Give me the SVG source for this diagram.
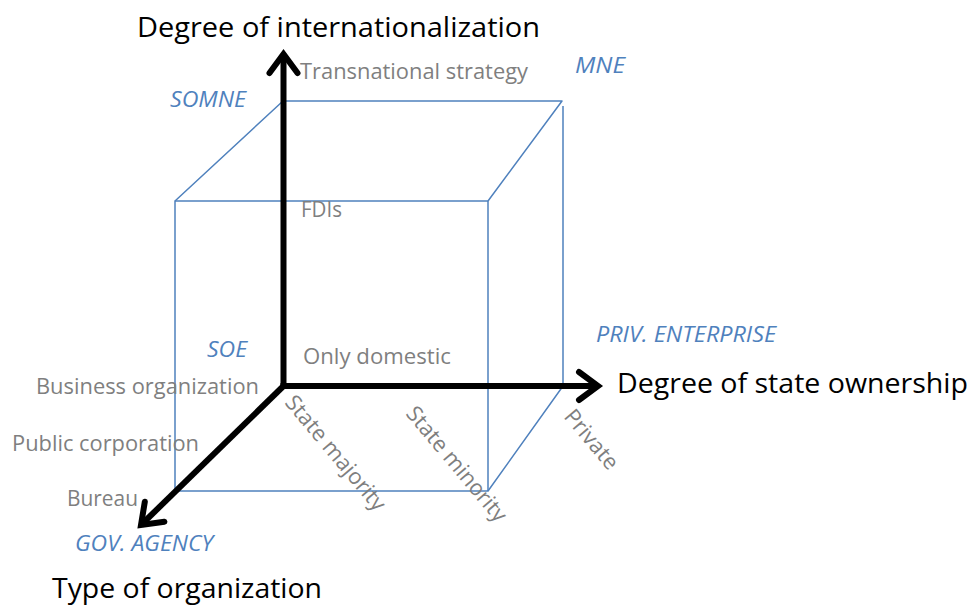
<svg xmlns="http://www.w3.org/2000/svg" width="975" height="607" viewBox="0 0 975 607">
<style>
  text { font-family: "Open Sans", "Noto Sans", "Liberation Sans", sans-serif; }
  .axis-title { font-size: 28px; fill: #000; }
  .tick { font-size: 22px; fill: #7f7f7f; }
  .corner { font-size: 22px; fill: #4f81bd; font-style: italic; }
  .edge { fill: none; stroke: #4f81bd; stroke-width: 1.5; stroke-linejoin: round; }
  .axis { fill: none; stroke: #000; stroke-width: 6; marker-end: url(#arrow); }
</style>
<defs>
  <marker id="arrow" markerUnits="userSpaceOnUse" orient="auto" markerWidth="40" markerHeight="40" viewBox="-30 -20 40 40" refX="0" refY="0" overflow="visible">
    <path d="M-19,-14 L0,0 L-19,14" fill="none" stroke="#000" stroke-width="6" stroke-linecap="round" stroke-linejoin="miter"/>
  </marker>
</defs>
<rect width="975" height="607" fill="#fff"/>

<g id="cube">
  <rect class="edge" x="175" y="201" width="313" height="290"/>
  <path class="edge" d="M175,201 L283,101 L562,101 L488,201"/>
  <path class="edge" d="M563,106 L563,386 L488,491"/>
</g>

<g id="connectors">
  <path class="axis" d="M283.5,389 L283.5,54"/>
  <path class="axis" d="M280.5,386 L598,386"/>
  <path class="axis" d="M283.5,386 L141,525"/>
</g>

<g id="axis-internationalization">
  <text class="axis-title" x="137" y="37" textLength="403" lengthAdjust="spacingAndGlyphs">Degree of internationalization</text>
  <text class="tick" x="300" y="79" textLength="228" lengthAdjust="spacingAndGlyphs">Transnational strategy</text>
  <text class="tick" x="301" y="217" textLength="41" lengthAdjust="spacingAndGlyphs">FDIs</text>
  <text class="tick" x="303" y="364" textLength="148" lengthAdjust="spacingAndGlyphs">Only domestic</text>
</g>

<g id="axis-ownership">
  <text class="axis-title" x="617" y="393" textLength="351" lengthAdjust="spacingAndGlyphs">Degree of state ownership</text>
  <text class="tick" transform="translate(284,403) rotate(50)" textLength="143" lengthAdjust="spacingAndGlyphs">State majority</text>
  <text class="tick" transform="translate(405,414) rotate(50)" textLength="143" lengthAdjust="spacingAndGlyphs">State minority</text>
  <text class="tick" transform="translate(563,417) rotate(50)" textLength="71" lengthAdjust="spacingAndGlyphs">Private</text>
</g>

<g id="axis-organization">
  <text class="axis-title" x="52" y="598" textLength="270" lengthAdjust="spacingAndGlyphs">Type of organization</text>
  <text class="tick" x="36" y="394" textLength="223" lengthAdjust="spacingAndGlyphs">Business organization</text>
  <text class="tick" x="12" y="451" textLength="187" lengthAdjust="spacingAndGlyphs">Public corporation</text>
  <text class="tick" x="67" y="506" textLength="71" lengthAdjust="spacingAndGlyphs">Bureau</text>
</g>

<g id="node-mne"><text class="corner" x="575" y="73" textLength="50" lengthAdjust="spacingAndGlyphs">MNE</text></g>
<g id="node-somne"><text class="corner" x="170" y="107" textLength="76" lengthAdjust="spacingAndGlyphs">SOMNE</text></g>
<g id="node-soe"><text class="corner" x="207" y="357" textLength="40" lengthAdjust="spacingAndGlyphs">SOE</text></g>
<g id="node-priv"><text class="corner" x="596" y="342" textLength="180" lengthAdjust="spacingAndGlyphs">PRIV. ENTERPRISE</text></g>
<g id="node-gov"><text class="corner" x="75" y="551" textLength="138" lengthAdjust="spacingAndGlyphs">GOV. AGENCY</text></g>
</svg>
